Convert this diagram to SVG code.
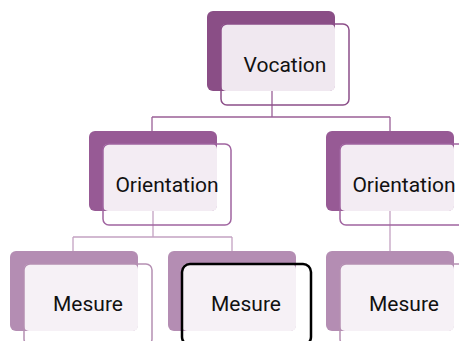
<svg xmlns="http://www.w3.org/2000/svg" width="459" height="341" viewBox="0 0 459 341">
<style>
text{font-family:Roboto,"Liberation Sans",sans-serif;font-size:21px;fill:#111;text-anchor:middle}
.c1{fill:none;stroke:#9A6097;stroke-width:1.3}
.c2{fill:none;stroke:#C4A2C2;stroke-width:1.3}
.b1{fill:#8A4E86}.b2{fill:#975A95}.b3{fill:#B48DB3}
.f1{fill:#F0E8F0}.f2{fill:#F3ECF3}.f3{fill:#F6F1F6}
.o1{fill:none;stroke:#8C4F89;stroke-width:1.5}
.o2{fill:none;stroke:#A064A0;stroke-width:1.5}
.o3{fill:none;stroke:#B590B3;stroke-width:1.5}
.sel{fill:none;stroke:#000;stroke-width:2.5}
</style>
<rect width="459" height="341" fill="#fff"/>
<g id="connectors">
<path class="c1" d="M272 91V117M152 117H390M152 117V131M390 117V131"/>
<path class="c2" d="M153 211V237M73 237H232M73 237V251M232 237V251M390 211V251"/>
</g>
<g id="vocation">
<rect class="b1" x="207" y="11" width="128" height="80" rx="6"/>
<rect class="f1" x="221" y="24" width="114" height="67" rx="5"/>
<rect class="o1" x="221" y="24" width="128" height="81" rx="6"/>
<text x="285" y="72">Vocation</text>
</g>
<g id="orientation-left">
<rect class="b2" x="89" y="131" width="128" height="80" rx="6"/>
<rect class="f2" x="103" y="144" width="114" height="67" rx="5"/>
<rect class="o2" x="103" y="144" width="128" height="81" rx="6"/>
<text x="167" y="192">Orientation</text>
</g>
<g id="orientation-right">
<rect class="b2" x="326" y="131" width="128" height="80" rx="6"/>
<rect class="f2" x="340" y="144" width="114" height="67" rx="5"/>
<rect class="o2" x="340" y="144" width="128" height="81" rx="6"/>
<text x="404" y="192">Orientation</text>
</g>
<g id="mesure-left">
<rect class="b3" x="10" y="251" width="128" height="80" rx="6"/>
<rect class="f3" x="24" y="264" width="114" height="67" rx="5"/>
<rect class="o3" x="24" y="264" width="128" height="81" rx="6"/>
<text x="88" y="311">Mesure</text>
</g>
<g id="mesure-middle">
<rect class="b3" x="168" y="251" width="128" height="80" rx="6"/>
<rect class="f3" x="182" y="264" width="114" height="67" rx="5"/>
<rect class="sel" x="182" y="264" width="129" height="81" rx="8"/>
<text x="246" y="311">Mesure</text>
</g>
<g id="mesure-right">
<rect class="b3" x="326" y="251" width="128" height="80" rx="6"/>
<rect class="f3" x="340" y="264" width="114" height="67" rx="5"/>
<rect class="o3" x="340" y="264" width="128" height="81" rx="6"/>
<text x="404" y="311">Mesure</text>
</g>
</svg>
